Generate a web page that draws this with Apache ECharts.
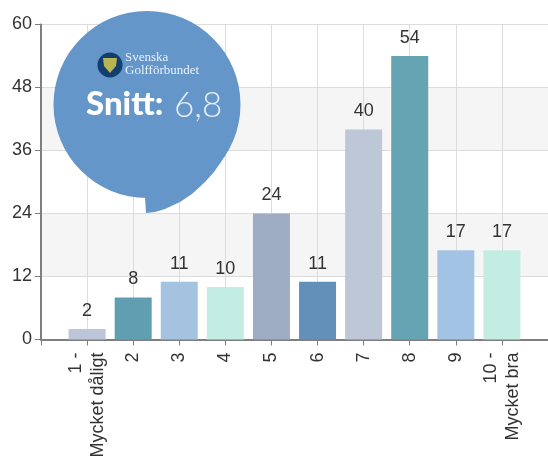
<!DOCTYPE html>
<html>
<head>
<meta charset="utf-8">
<style>html,body{margin:0;padding:0;background:#fff}#c{width:548px;height:461px}</style>
<script src="https://cdn.jsdelivr.net/npm/echarts@6/dist/echarts.min.js"></script>
</head>
<body>
<div id="c"></div>
<script>
const categories = ['1 -\nMycket dåligt','2','3','4','5','6','7','8','9','10 -\nMycket bra'];
const values = [2,8,11,10,24,11,40,54,17,17];
const barColors = ['#bcc6d8','#5f9fb1','#a3c3e0','#c3ede3','#9eacc4','#6390b9','#bdc7d8','#65a4b3','#a3c3e4','#c3ede3'];
const yMax = 60, yStep = 12;
const snittLabel = 'Snitt:';
const snittValue = '6,8';
const brand = ['Svenska','Golfförbundet'];

const font = '"Liberation Sans", Arial, sans-serif';
const chart = echarts.init(document.getElementById('c'), null, {renderer:'canvas'});
chart.setOption({
  animation:false,
  backgroundColor:'#fff',
  grid:{left:41,right:0,top:24.5,bottom:121.5,containLabel:false},
  xAxis:{
    type:'value',min:0,max:categories.length+1,interval:1,
    axisLine:{show:true,lineStyle:{color:'#7f7f7f',width:2}},
    axisTick:{show:true,length:6,lineStyle:{color:'#7f7f7f',width:1}},
    splitLine:{show:true,lineStyle:{color:'#dcdcdc',width:1}},
    axisLabel:{
      rotate:90,margin:13,color:'#333',fontFamily:font,fontSize:18,lineHeight:22,
      showMinLabel:true,showMaxLabel:true,hideOverlap:false,
      formatter:v=>categories[v-1]||''
    }
  },
  yAxis:{
    type:'value',min:0,max:yMax,interval:yStep,
    axisLine:{show:true,lineStyle:{color:'#7f7f7f',width:2}},
    axisTick:{show:true,length:6,lineStyle:{color:'#7f7f7f',width:1}},
    splitLine:{show:true,lineStyle:{color:'#dcdcdc',width:1}},
    splitArea:{show:true,areaStyle:{color:['#ffffff','#f5f5f5']}},
    axisLabel:{margin:9,color:'#333',fontFamily:font,fontSize:18}
  },
  series:[{
    type:'bar',barWidth:37,
    data:values.map((v,i)=>({value:[i+1,v],itemStyle:{color:barColors[i]}})),
    label:{show:true,position:'top',distance:9,color:'#333',fontFamily:font,fontSize:18,
      formatter:p=>p.value[1]}
  }],
  graphic:[
    {type:'circle',shape:{cx:147,cy:104.5,r:93.5},style:{fill:'#6496ca'},z:50},
    {type:'polygon',shape:{points:[[145,190],[145,197],[146,213],[155,212],[165,209],[180,202],[192,194],[205,182],[214,172],[221,162],[224,156]]},style:{fill:'#6496ca'},z:50},
    {type:'circle',shape:{cx:110,cy:65,r:12.5},style:{fill:'#123f6e'},z:51},
    {type:'polygon',shape:{points:[[103,58],[117,58],[116,66],[110,73],[104,66]]},style:{fill:'#b9b553'},z:52},
    {type:'text',x:125,y:51,z:52,style:{text:brand.join('\n'),fill:'#e8f0f8',font:'13px "Liberation Serif", serif',lineHeight:13}},
    {type:'text',x:86,y:88,z:52,style:{text:snittLabel,fill:'#fff',font:'900 33px Lato, sans-serif'}},
    {type:'text',x:174,y:88,z:52,style:{text:snittValue,fill:'#e4eef8',font:'300 35px Lato, sans-serif'}}
  ]
});
</script>
</body>
</html>
